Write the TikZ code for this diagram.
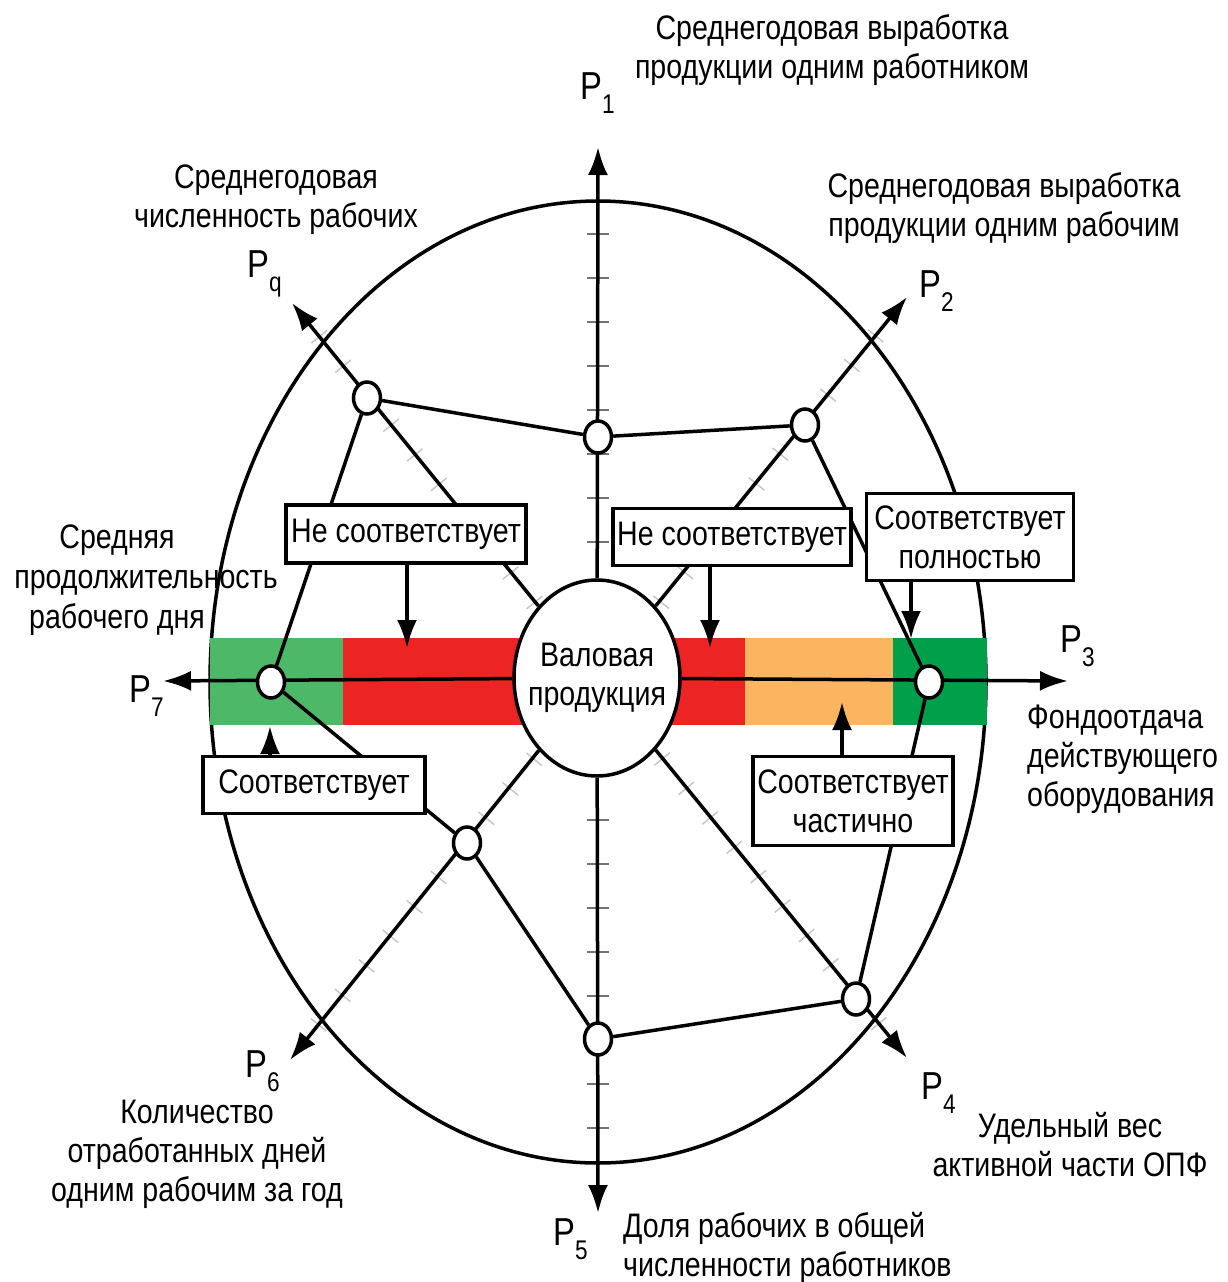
\documentclass[tikz,border=0pt]{standalone}
\usepackage{fontspec}
\setmainfont{Liberation Sans}[FakeStretch=0.84]
\usetikzlibrary{shapes.geometric,arrows.meta,calc}

\definecolor{lgreen}{RGB}{76,184,104}
\definecolor{bred}{RGB}{237,36,36}
\definecolor{borange}{RGB}{251,180,95}
\definecolor{dgreen}{RGB}{0,160,75}

\newcommand\Plab[1]{P\raisebox{-14pt}{\fontsize{27}{27}\selectfont #1}}

\begin{document}
\begin{tikzpicture}[x=1pt,y=-1pt,
  txt/.style={font=\fontsize{34}{39}\selectfont, inner sep=0pt, align=center},
  plab/.style={font=\fontsize{39}{39}\selectfont, inner sep=0pt, anchor=base west},
  box/.style={draw, line width=3.5pt, fill=white, inner sep=0pt, align=center,
              font=\fontsize{34}{39}\selectfont},
  pmarker/.style={ellipse, draw, line width=3.5pt, fill=white, inner sep=0pt,
              minimum width=27pt, minimum height=32pt},
  axis/.style={line width=3.5pt, -{Latex[length=28pt,width=20pt]}},
  ptr/.style={line width=3.5pt, -{Latex[length=28pt,width=20pt]}},
  poly/.style={line width=3.5pt},
  tickv/.style={draw=black!55, line width=2pt},
  tickd/.style={draw=black!22, line width=1.5pt}]
\useasboundingbox (0,0) rectangle (1228,1282);

% outer ellipse
\draw[line width=3.5pt] (598,682) ellipse [x radius=388pt, y radius=481pt];

% coloured band
\fill[lgreen]  (210,638) rectangle (343,725);
\fill[bred]    (343,638) rectangle (745,725);
\fill[borange] (745,638) rectangle (893,725);
\fill[dgreen]  (893,638) rectangle (987,725);

% axis origin and tips
\coordinate (O)  at (598,681);
\coordinate (t1) at (598,147);
\coordinate (t2) at (907,297);
\coordinate (t3) at (1068,681);
\coordinate (t4) at (907,1058);
\coordinate (t5) at (598,1213);
\coordinate (t6) at (290,1060);
\coordinate (t7) at (163,681);
\coordinate (tq) at (292,303);

% ticks
\foreach \d in {139,183,...,447} {
  \draw[tickv] ($(O)+(-11,-\d)$) -- ($(O)+(11,-\d)$);
  \draw[tickv] ($(O)+(-11,\d)$) -- ($(O)+(11,\d)$);
}
\foreach \t in {tq,t2,t4,t6} {
  \foreach \d in {101,139,...,443} {
    \coordinate (tp) at ($(O)!\d pt!(\t)$);
    \draw[tickd] ($(tp)!10pt!90:(\t)$) -- ($(tp)!10pt!-90:(\t)$);
  }
}

% centre
\node[ellipse, draw, line width=3.5pt, fill=white, inner sep=0pt,
      minimum width=166pt, minimum height=196pt] (c) at (597,678) {};
\node[txt] (ct) at (c) {Валовая\\продукция};

% axes
\foreach \t in {t1,t2,t3,t4,t5,t6,t7,tq} \draw[axis] (c) -- (\t);

% markers
\node[pmarker] (m1) at (598,437) {};
\node[pmarker] (m2) at (805,425) {};
\node[pmarker] (m3) at (929,682) {};
\node[pmarker] (m4) at (856,999) {};
\node[pmarker] (m5) at (598,1039) {};
\node[pmarker] (m6) at (467,843) {};
\node[pmarker] (m7) at (271,682) {};
\node[pmarker] (mq) at (367,398) {};

% polygon
\draw[poly] (mq) -- (m1) -- (m2) -- (m3) -- (m4) -- (m5) -- (m6) -- (m7) -- (mq);

% boxes
\node[box, minimum width=240pt, minimum height=58pt] (A) at (406,534) {Не соответствует};
\node[box, minimum width=238pt, minimum height=57pt] (B) at (732,537) {Не соответствует};
\node[box, minimum width=207pt, minimum height=87pt] (C) at (970,537) {Соответствует\\полностью};
\node[box, minimum width=222pt, minimum height=57pt] (D) at (314,785) {Соответствует};
\node[box, minimum width=200pt, minimum height=89pt] (E) at (853,801) {Соответствует\\частично};

\coordinate (aA) at (407,648);
\coordinate (aB) at (710,648);
\coordinate (aC) at (911,639);
\coordinate (aD) at (270,726);
\coordinate (aE) at (842,702);
\draw[ptr] (A.south -| aA) -- (aA);
\draw[ptr] (B.south -| aB) -- (aB);
\draw[ptr] (C.south -| aC) -- (aC);
\draw[ptr] (D.north -| aD) -- (aD);
\draw[ptr] (E.north -| aE) -- (aE);

% axis labels
\node[plab] (l1) at (580,99)   {\Plab{1}};
\node[plab] (l2) at (919,297)  {\Plab{2}};
\node[plab] (l3) at (1060,652) {\Plab{3}};
\node[plab] (l4) at (921,1099) {\Plab{4}};
\node[plab] (l5) at (553,1245) {\Plab{5}};
\node[plab] (l6) at (245,1077) {\Plab{6}};
\node[plab] (l7) at (129,702)  {\Plab{7}};
\node[plab] (lq) at (247,277)  {\Plab{q}};

% descriptions
\node[txt, anchor=north] (d1) at (832,14) {Среднегодовая выработка\\продукции одним работником};
\node[txt, anchor=north] (dq) at (276,165) {Среднегодовая\\численность рабочих};
\node[txt, anchor=north] (d2) at (1004,172) {Среднегодовая выработка\\продукции одним рабочим};
\node[txt, anchor=base] (d7a) at (117,548) {Средняя};
\node[txt, anchor=base] (d7b) at (146,588) {продолжительность};
\node[txt, anchor=base] (d7c) at (117,628) {рабочего дня};
\node[txt, anchor=north west, align=left] (d3) at (1027,705) {Фондоотдача\\действующего\\оборудования};
\node[txt, anchor=north] (d6) at (197,1100) {Количество\\отработанных дней\\одним рабочим за год};
\node[txt, anchor=north] (d4) at (1070,1112) {Удельный вес\\активной части ОПФ};
\node[txt, anchor=north west, align=left] (d5) at (623,1212) {Доля рабочих в общей\\численности работников};
\end{tikzpicture}
\end{document}
